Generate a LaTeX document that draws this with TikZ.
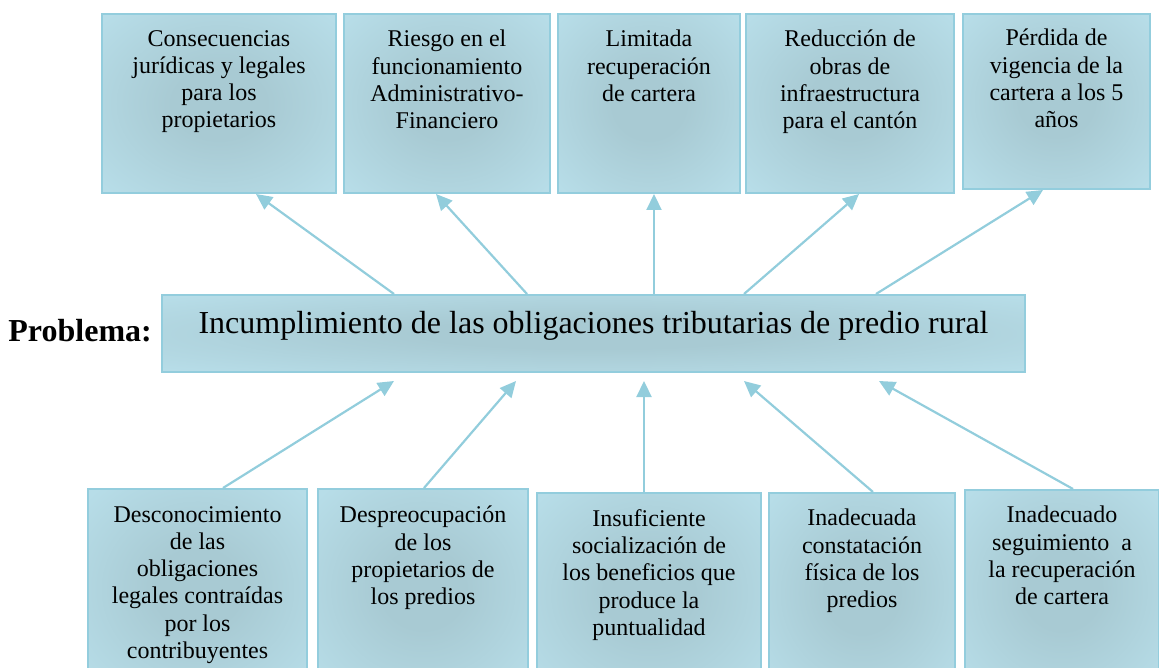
\documentclass[tikz,border=0pt]{standalone}
\usepackage{fontspec}
\setmainfont{Liberation Serif}
\usetikzlibrary{arrows.meta,calc}
\definecolor{boxfill}{HTML}{B7DDE8}
\definecolor{boxedge}{HTML}{93CDDD}
\definecolor{boxglow}{HTML}{A8CAD3}
\definecolor{linkblue}{HTML}{92CDDC}
\pgfdeclareradialshading{glow}{\pgfpoint{0bp}{0bp}}{color(0bp)=(boxglow); color(10bp)=(boxglow); color(34bp)=(boxfill); color(50bp)=(boxfill)}
\tikzset{
  tree box/.style={rectangle,draw=boxedge,line width=2pt,shading=glow,
    inner sep=0pt,anchor=north west},
  box text/.style={align=center,inner sep=0pt,anchor=north,
    font=\fontsize{24}{27.3}\selectfont},
  link/.style={draw=linkblue,line width=2.2pt,
    -{Triangle[length=16pt,width=15pt]}}
}

\begin{document}
\begin{tikzpicture}[x=1pt,y=-1pt]
  \useasboundingbox (0,0) rectangle (1159,668);
  \clip (0,0) rectangle (1159,668);
  % efectos
  \node[tree box,minimum width=234pt,minimum height=179pt] (e1) at (101,13) {};
  \node[tree box,minimum width=206pt,minimum height=179pt] (e2) at (343,13) {};
  \node[tree box,minimum width=182pt,minimum height=179pt] (e3) at (557,13) {};
  \node[tree box,minimum width=208pt,minimum height=179pt] (e4) at (745,13) {};
  \node[tree box,minimum width=187pt,minimum height=175pt] (e5) at (962,13) {};
  \node[box text] (e1txt) at ($(e1.north)+(0,17)$) {Consecuencias\\jurídicas y legales\\para los\\propietarios};
  \node[box text] (e2txt) at ($(e2.north)+(0,17)$) {Riesgo en el\\funcionamiento\\Administrativo-\\Financiero};
  \node[box text] (e3txt) at ($(e3.north)+(0,17)$) {Limitada\\recuperación\\de cartera};
  \node[box text] (e4txt) at ($(e4.north)+(0,17)$) {Reducción de\\obras de\\infraestructura\\para el cantón};
  \node[box text] (e5txt) at ($(e5.north)+(0,16)$) {Pérdida de\\vigencia de la\\cartera a los 5\\años};
  % problema central
  \node[tree box,minimum width=863pt,minimum height=77pt] (prob) at (161,294) {};
  \node[anchor=base,inner sep=0pt,font=\fontsize{32}{36}\selectfont] (probtxt)
    at ($(prob.north)+(0,39)$) {Incumplimiento de las obligaciones tributarias de predio rural};
  \node[anchor=base east,inner sep=0pt,font=\fontsize{32}{36}\selectfont\bfseries] (problabel)
    at ($(prob.west)+(-9,8)$) {Problema:};
  % causas
  \node[tree box,minimum width=219pt,minimum height=200pt] (c1) at (87,488) {};
  \node[tree box,minimum width=210pt,minimum height=200pt] (c2) at (317,488) {};
  \node[tree box,minimum width=224pt,minimum height=200pt] (c3) at (536,492) {};
  \node[tree box,minimum width=186pt,minimum height=200pt] (c4) at (768,492) {};
  \node[tree box,minimum width=194pt,minimum height=200pt] (c5) at (964,489) {};
  \node[box text] (c1txt) at ($(c1.north)+(0,18)$) {Desconocimiento\\de las\\obligaciones\\legales contraídas\\por los\\contribuyentes};
  \node[box text] (c2txt) at ($(c2.north)+(0,18)$) {Despreocupación\\de los\\propietarios de\\los predios};
  \node[box text] (c3txt) at ($(c3.north)+(0,17)$) {Insuficiente\\socialización de\\los beneficios que\\produce la\\puntualidad};
  \node[box text] (c4txt) at ($(c4.north)+(0,17)$) {Inadecuada\\constatación\\física de los\\predios};
  \node[box text] (c5txt) at ($(c5.north)+(0,17)$) {Inadecuado\\seguimiento~ a\\la recuperación\\de cartera};
  % flechas
  \foreach \b/\dx/\tx in {e1/-199.5/37,e2/-66.5/-11,e3/60.5/5,e4/150.5/9,e5/282.5/-13.5}
    \draw[link] ($(prob.north)+(\dx,0)$) -- ($(\b.south)+(\tx,0)$);
  \foreach \b/\sx/\dx in {c1/25.5/-199.5,c2/1/-77.5,c3/-5/50.5,c4/11/150.5,c5/11/285.5}
    \draw[link] ($(\b.north)+(\sx,0)$) -- ($(prob.south)+(\dx,8)$);
\end{tikzpicture}
\end{document}
